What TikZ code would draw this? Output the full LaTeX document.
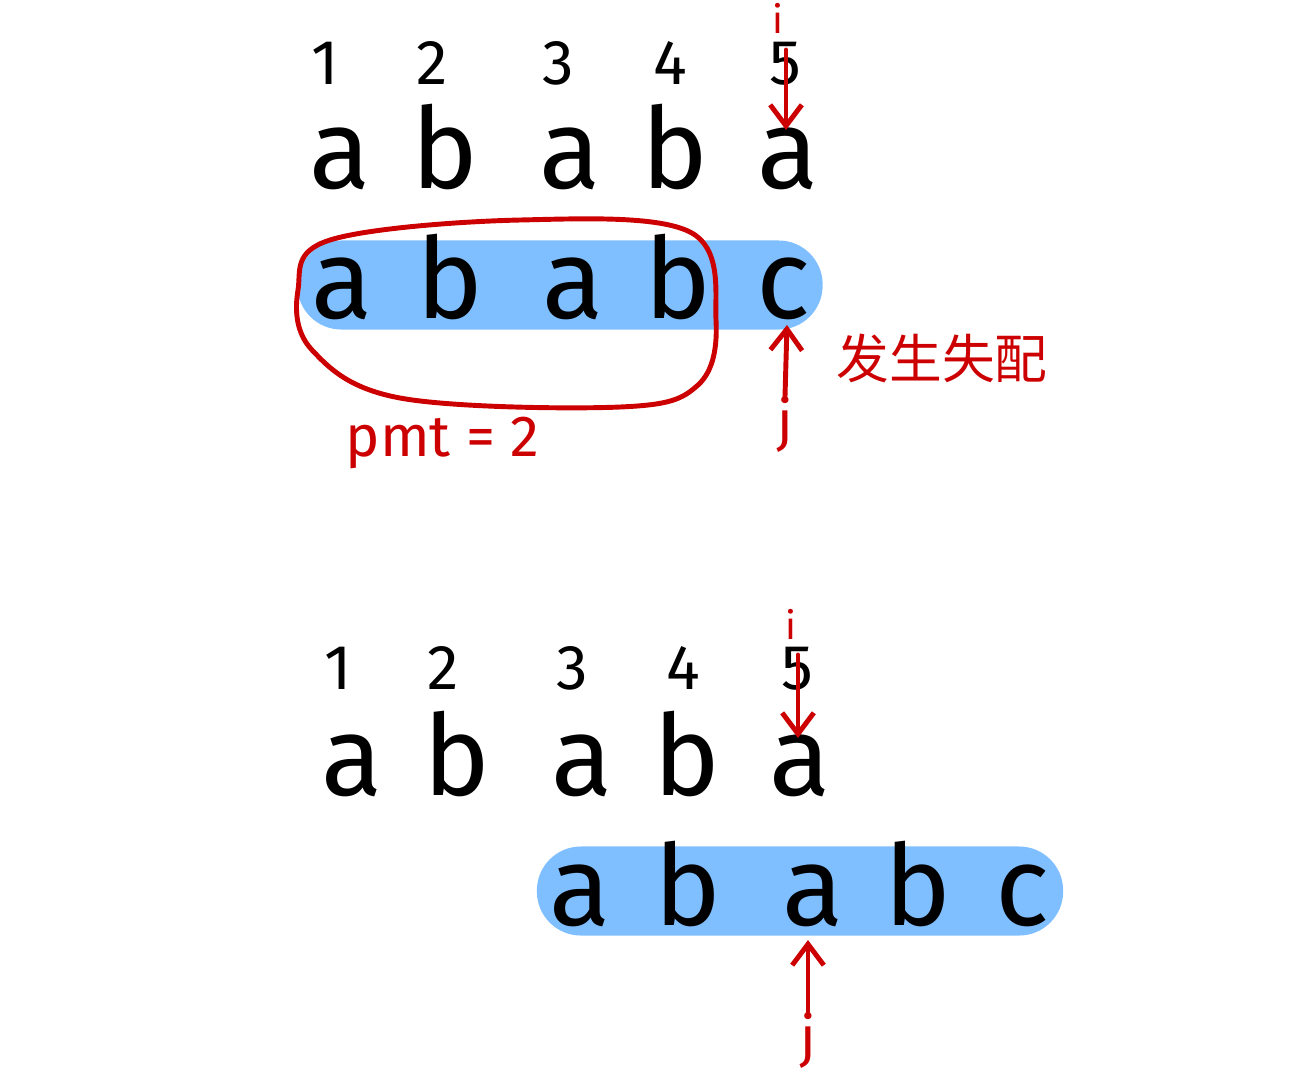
\documentclass[tikz,border=0pt]{standalone}
\usepackage{fontspec}
\setmainfont{Fira Sans}
\newfontfamily\cjk{Noto Sans CJK SC}
\usetikzlibrary{arrows.meta}
\definecolor{inkred}{RGB}{204,0,0}
\definecolor{pillblue}{RGB}{128,191,255}
\tikzset{
  num/.style={anchor=base, inner sep=0pt, font=\fontsize{18}{22}\selectfont},
  letter/.style={anchor=base, inner sep=0pt, font=\fontsize{32}{36}\selectfont},
  pill/.style={fill=pillblue, draw=none, rounded corners=0.44cm, minimum height=0.89cm, inner sep=0pt},
  redtext/.style={text=inkred, inner sep=0pt},
  redarrow/.style={draw=inkred, line width=1.4pt, line cap=round, -{Straight Barb[length=6pt,width=9pt]}},
  loop/.style={draw=inkred, line width=1.4pt}
}
\begin{document}
\begin{tikzpicture}[x=0.01cm,y=-0.01cm]
\useasboundingbox (0,0) rectangle (1306,1078);
% ---------- top ----------
\node[pill, minimum width=5.25cm] (pillA) at (560,285) {};
\foreach \n/\x in {1/325,2/432,3/558,4/670,5/785}
  \node[num] (tn\n) at (\x,84) {\n};
\foreach \n/\x/\t in {1/340/a,2/445/b,3/570/a,4/675/b,5/788/a}
  \node[letter] (tl\n) at (\x,188) {\t};
\foreach \n/\x/\t in {1/342/a,2/450/b,3/573/a,4/678/b,5/783/c}
  \node[letter] (pl\n) at (\x,318) {\t};
\draw[loop] plot[smooth cycle, tension=0.6] coordinates {(330,240) (520,220) (690,232) (716,320) (698,385) (620,407) (400,398) (312,350) (298,290)};
\node[redtext, font=\fontsize{11}{13}\selectfont, anchor=south] (iA) at (778,34) {i};
\coordinate (iAstart) at (786,50);
\coordinate (iAend) at (786,130);
\draw[redarrow] (iAstart) -- (iAend);
\node[redtext, font=\fontsize{16}{18}\selectfont] (jA) at (785,425) {j};
\coordinate (jAend) at (787,325);
\draw[redarrow] (jA.north) -- (jAend);
\node[redtext, font=\cjk\fontsize{15}{17}\selectfont, anchor=west] (mis) at (836,358) {发生失配};
\node[redtext, font=\fontsize{16.5}{20}\selectfont, anchor=west] (pmt) at (345,443) {pmt = 2};
% ---------- bottom ----------
\node[pill, minimum width=5.26cm] (pillB) at (800,891) {};
\foreach \n/\x in {1/338,2/443,3/572,4/683,5/797}
  \node[num] (bn\n) at (\x,689) {\n};
\foreach \n/\x/\t in {1/352/a,2/457/b,3/582/a,4/687/b,5/800/a}
  \node[letter] (bl\n) at (\x,795) {\t};
\foreach \n/\x/\t in {1/580/a,2/688/b,3/813/a,4/918/b,5/1022/c}
  \node[letter] (ql\n) at (\x,925) {\t};
\node[redtext, font=\fontsize{11}{13}\selectfont, anchor=south] (iB) at (791,640) {i};
\coordinate (iBstart) at (798,655);
\coordinate (iBend) at (798,738);
\draw[redarrow] (iBstart) -- (iBend);
\node[redtext, font=\fontsize{16}{18}\selectfont] (jB) at (808,1040) {j};
\coordinate (jBend) at (808,940);
\draw[redarrow] (jB.north) -- (jBend);
\end{tikzpicture}
\end{document}
